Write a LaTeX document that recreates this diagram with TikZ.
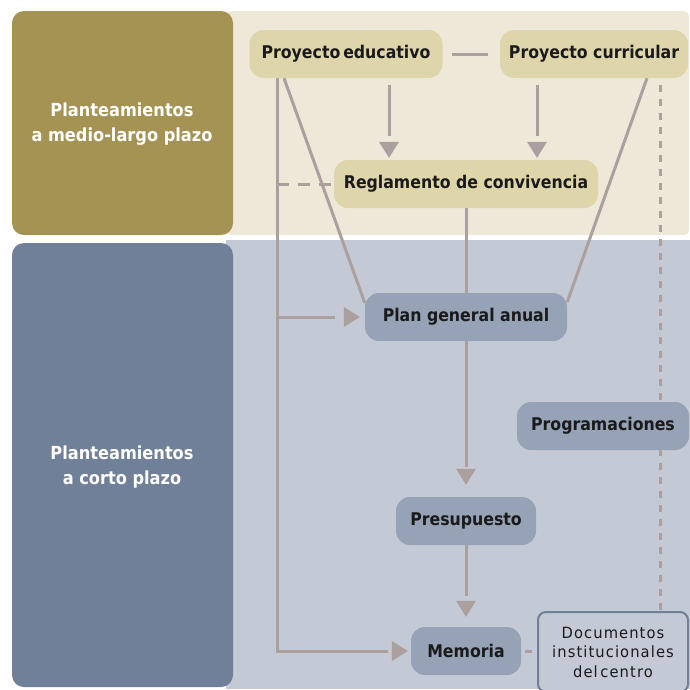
\documentclass[tikz,border=0pt]{standalone}
\usepackage{fontspec}
\setmainfont{DejaVu Sans}[FakeStretch=0.9]
\newfontfamily\docfont{DejaVu Sans}[FakeStretch=0.95,LetterSpace=7]
\definecolor{brownbox}{HTML}{A59354}
\definecolor{beigebg}{HTML}{EEE8D9}
\definecolor{beigenode}{HTML}{DED6AA}
\definecolor{bluebox}{HTML}{708099}
\definecolor{bluebg}{HTML}{C4C9D6}
\definecolor{bluenode}{HTML}{96A2B6}
\definecolor{lc}{HTML}{ABA09E}
\definecolor{txt}{HTML}{1A1A1A}
\tikzset{
  nodetext/.style={font=\bfseries\fontsize{17.5}{20}\selectfont, text=txt, inner sep=0pt, rounded corners=14pt, minimum height=48pt},
  bnode/.style={nodetext, fill=beigenode},
  cnode/.style={nodetext, fill=bluenode},
  conn/.style={draw=lc, line width=3pt},
  dashconn/.style={conn, dash pattern=on 12pt off 9pt},
  dotconn/.style={conn, dash pattern=on 7pt off 7pt},
  sidelabel/.style={font=\bfseries\fontsize{18}{25}\selectfont, text=white, align=center}
}
\begin{document}
\begin{tikzpicture}[x=1pt,y=-1pt]
\useasboundingbox (0,0) rectangle (690,689);
\fill[white] (0,0) rectangle (690,689);
% backgrounds
\fill[beigebg, rounded corners=5pt] (226,11) rectangle (689,235);
\fill[bluebg] (226,240) rectangle (690,689);
\fill[brownbox, rounded corners=12pt] (12,11) rectangle (233,235);
\fill[bluebox, rounded corners=12pt] (12,243) rectangle (233,687);
\node[sidelabel] (l1) at (122,124) {Planteamientos\\a medio-largo plazo};
\node[sidelabel] (l2) at (122,467) {Planteamientos\\a corto plazo};

% upper nodes
\node[bnode, minimum width=193pt] (pe) at (346,54) {Proyecto\,educativo};
\node[bnode, minimum width=188pt] (pc) at (594,54) {Proyecto curricular};
\node[bnode, minimum width=264pt] (rc) at (466,184) {Reglamento de convivencia};
\coordinate (vl) at ([xshift=-69pt]pe.south);

% connectors in the upper part
\draw[conn, shorten <=9pt, shorten >=12pt] (pe.east) -- (pc.west);
\draw[conn, shorten <=7pt] ([xshift=43pt]pe.south) -- ([xshift=-77pt,yshift=24pt]rc.north);
\fill[lc] ([xshift=-77pt,yshift=2pt]rc.north) -- ++(-10,-16) -- ++(20,0) -- cycle;
\draw[conn, shorten <=7pt] ([xshift=-57pt]pc.south) -- ([xshift=71pt,yshift=24pt]rc.north);
\fill[lc] ([xshift=71pt,yshift=2pt]rc.north) -- ++(-10,-16) -- ++(20,0) -- cycle;

% lower nodes' positions (drawn later, on top of lines)
\coordinate (pgaC) at (466,317);
\coordinate (docC) at (613,652);

% dotted line to the documents box (behind Programaciones)
\path (docC) ++(0,-40) coordinate (doctop);
\draw[dotconn, shorten <=7pt, shorten >=1pt] ([xshift=66pt]pc.south) -- ([xshift=47pt]doctop);

\node[cnode, minimum width=202pt] (pga) at (pgaC) {Plan general anual};
\node[cnode, minimum width=172pt] (prog) at (603,426) {Programaciones};
\node[cnode, minimum width=140pt] (pres) at (466,521) {Presupuesto};
\node[cnode, minimum width=110pt] (mem) at (466,651) {Memoria};
\node[draw=bluebox, line width=2pt, fill=bluebg, rounded corners=8pt, minimum width=150pt, minimum height=80pt, inner sep=0pt, align=center, text=txt, font=\docfont\fontsize{15.5}{19.5}\selectfont] (doc) at (docC) {Documentos\\institucionales\\del\,centro};

% left vertical and arrows into pga / mem
\draw[conn] (vl) |- ([xshift=-23pt]mem.west);
\fill[lc] ([xshift=-3pt]mem.west) -- ++(-16,-10) -- ++(0,20) -- cycle;
\draw[conn] (vl |- pga.west) -- ([xshift=-30pt]pga.west);
\fill[lc] ([xshift=-5pt]pga.west) -- ++(-16,-10) -- ++(0,20) -- cycle;
% dashed to rc
\draw[dashconn, shorten >=1pt] (vl |- rc.west) -- (rc.west);
% diagonals
\draw[conn] ([xshift=-62pt]pe.south) -- ([yshift=14pt]pga.west);
\draw[conn] ([xshift=53pt]pc.south) -- ([yshift=15pt]pga.east);
% rc -> pres
\draw[conn] (rc.south) -- (pga.north);
\draw[conn] (pga.south) -- ([yshift=30pt]pres.north);
\fill[lc] ([yshift=12pt]pres.north) -- ++(-10,-16) -- ++(20,0) -- cycle;
% pres -> mem
\draw[conn, shorten >=31pt] (pres.south) -- (mem.north);
\fill[lc] ([yshift=10pt]mem.north) -- ++(-10,-16) -- ++(20,0) -- cycle;
% mem -- doc
\draw[conn, shorten <=4pt, shorten >=5pt] (mem.east) -- (doc.west |- mem.east);
\end{tikzpicture}
\end{document}
